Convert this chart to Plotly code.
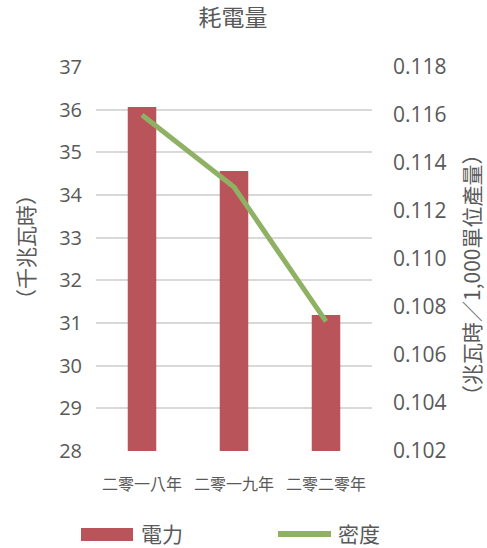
import plotly.graph_objects as go

# 耗電量：電力（千兆瓦時）與密度（兆瓦時／1,000單位產量）
years = ["二零一八年", "二零一九年", "二零二零年"]
power = [36.06, 34.56, 31.19]
density = [0.1160, 0.1130, 0.1074]

left_ticks = list(range(28, 38))
right_ticks = [0.102, 0.104, 0.106, 0.108, 0.110, 0.112, 0.114, 0.116, 0.118]

BAR_COLOR = "#B9545A"
LINE_COLOR = "#8FB163"
TEXT_COLOR = "#595959"
GRID_COLOR = "#D9D9D9"
NUM_FONT = "Open Sans, Noto Sans CJK TC, sans-serif"
CJK_FONT = "Noto Sans CJK TC, Noto Sans CJK SC, sans-serif"

W, H = 487, 548
ML, MR, MT, MB = 96, 115, 67, 97
PW, PH = W - ML - MR, H - MT - MB


def px_x(px):
    return (px - ML) / PW


def px_y(py):
    return 1 - (py - MT) / PH


fig = go.Figure()
fig.add_trace(go.Bar(
    x=years, y=power, name="電力", marker_color=BAR_COLOR,
    marker_line_width=0, width=0.31, showlegend=False,
))
fig.add_trace(go.Scatter(
    x=years, y=density, name="密度", yaxis="y2", mode="lines",
    line=dict(color=LINE_COLOR, width=5), showlegend=False,
))

fig.update_layout(
    width=W, height=H,
    margin=dict(l=ML, r=MR, t=MT, b=MB, pad=0),
    paper_bgcolor="white", plot_bgcolor="white",
    title=dict(text="耗電量", x=233 / W, xanchor="center", y=1 - 18 / H,
               yanchor="middle", yref="container",
               font=dict(family=CJK_FONT, size=23, color=TEXT_COLOR)),
    xaxis=dict(
        type="category", showgrid=False, zeroline=False, showline=False,
        ticks="", ticklabelstandoff=22,
        tickfont=dict(family=CJK_FONT, size=16, color=TEXT_COLOR),
    ),
    yaxis=dict(
        range=[28, 37], tickvals=left_ticks, showgrid=True,
        gridcolor=GRID_COLOR, gridwidth=1.5, zeroline=False, showline=False,
        ticks="", ticklabelstandoff=13,
        tickfont=dict(family=NUM_FONT, size=20, color=TEXT_COLOR),
    ),
    yaxis2=dict(
        range=[0.102, 0.118], tickvals=right_ticks, tickformat=".3f",
        overlaying="y", side="right", showgrid=False, zeroline=False,
        showline=False, ticks="", ticklabelstandoff=20,
        tickfont=dict(family=NUM_FONT, size=21, color=TEXT_COLOR),
    ),
    bargap=0.69,
)

annotations = [
    dict(text="（千兆瓦時）", x=px_x(25), y=px_y(247), textangle=-90,
         font=dict(family=CJK_FONT, size=21, color=TEXT_COLOR)),
    dict(text="（兆瓦時／1,000單位產量）", x=px_x(471), y=px_y(275), textangle=-90,
         font=dict(family=CJK_FONT, size=21, color=TEXT_COLOR)),
    dict(text="電力", x=px_x(139), y=px_y(533), xanchor="left",
         font=dict(family=CJK_FONT, size=21, color=TEXT_COLOR)),
    dict(text="密度", x=px_x(336), y=px_y(533), xanchor="left",
         font=dict(family=CJK_FONT, size=21, color=TEXT_COLOR)),
]
for a in annotations:
    a.update(xref="paper", yref="paper", showarrow=False)
    a.setdefault("xanchor", "center")
    a.setdefault("yanchor", "middle")
fig.update_layout(annotations=annotations)

# legend keys
fig.add_shape(type="rect", xref="paper", yref="paper",
              x0=px_x(81), x1=px_x(133), y0=px_y(541), y1=px_y(528),
              fillcolor=BAR_COLOR, line_width=0)
fig.add_shape(type="line", xref="paper", yref="paper",
              x0=px_x(278), x1=px_x(331), y0=px_y(534), y1=px_y(534),
              line=dict(color=LINE_COLOR, width=6))

fig.write_html("out.html")
